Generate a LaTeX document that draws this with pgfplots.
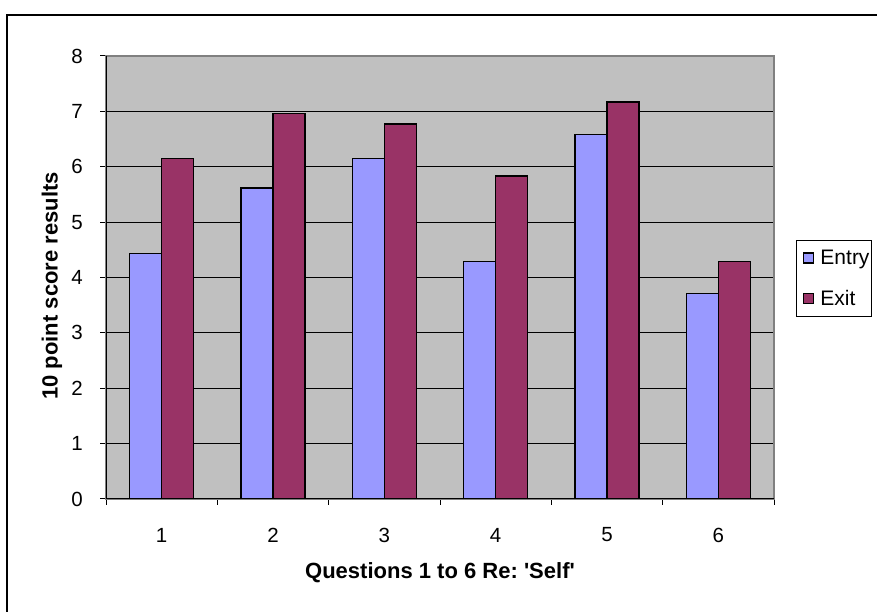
\documentclass[border=0pt]{standalone}
\usepackage{pgfplots}
\pgfplotsset{compat=1.18}
\usepackage{fontspec}
\setmainfont{Liberation Sans}
\definecolor{entryc}{HTML}{9999FF}
\definecolor{exitc}{HTML}{993366}
\definecolor{plotbg}{HTML}{C0C0C0}
\definecolor{frameg}{HTML}{808080}
\begin{document}
\begin{tikzpicture}
\path[use as bounding box] (0pt,0pt) rectangle (877pt,612pt);
% chart area frame (runs off the right and bottom edges)
\draw[line width=2pt] (7pt,-20pt) -- (7pt,597pt) -- (900pt,597pt);
\begin{axis}[
    at={(106pt,113pt)}, anchor=south west,
    scale only axis, width=668pt, height=443pt,
    xmin=-0.5, xmax=5.5, ymin=0, ymax=8,
    xtick={0,...,5}, xticklabels={1,2,3,4,5,6},
    minor xtick={-0.5,0.5,...,5.5},
    major x tick style={draw=none},
    minor x tick style={black, line width=1pt},
    xtick align=outside, ytick align=outside,
    xtick pos=bottom, ytick pos=left,
    minor tick length=6pt, major tick length=6pt,
    ytick={0,...,8},
    y tick style={black, line width=1pt},
    ymajorgrids, grid style={black, line width=1pt},
    axis background/.style={fill=plotbg},
    axis line style={draw=frameg, line width=1.5pt},
    /pgf/number format/assume math mode=true,
    tick label style={font=\fontsize{20.5}{24}\selectfont},
    xticklabel style={anchor=center, yshift=-30pt},
    yticklabel style={anchor=east, inner sep=0pt, xshift=-17pt},
    xlabel={\textbf{Questions 1 to 6 Re:\ \textquotesingle Self\textquotesingle}},
    ylabel={\textbf{10 point score results}},
    label style={font=\fontsize{22}{26}\selectfont},
    xlabel style={at={(axis description cs:0.5,-0.167)}, anchor=center},
    ylabel style={at={(axis description cs:-0.081,0.481)}, anchor=center},
    legend style={at={(axis description cs:1.0329,0.5847)}, anchor=north west,
        draw=black, line width=1pt, fill=white,
        font=\fontsize{21}{25}\selectfont,
        inner xsep=0pt, inner ysep=7.5pt, row sep=20pt},
    legend cell align=left,
    ybar, bar width=0.2874,
]
\addplot[fill=entryc, draw=black, line width=1.5pt, bar shift=-0.1437,
    legend image code/.code={\path[draw=none,fill=none] (0pt,0pt) -- (22pt,0pt);
      \draw[fill=entryc,draw=black,line width=1.5pt] (7pt,-5pt) rectangle (17pt,5pt);}]
    coordinates {(0,4.43) (1,5.62) (2,6.15) (3,4.29) (4,6.58) (5,3.71)};
\addplot[fill=exitc, draw=black, line width=1.5pt, bar shift=0.1437,
    legend image code/.code={\path[draw=none,fill=none] (0pt,0pt) -- (22pt,0pt);
      \draw[fill=exitc,draw=black,line width=1.5pt] (7pt,-5pt) rectangle (17pt,5pt);}]
    coordinates {(0,6.15) (1,6.96) (2,6.77) (3,5.83) (4,7.17) (5,4.29)};
\legend{Entry,Exit}
\draw[black, line width=1.5pt] (rel axis cs:0,1) -- (rel axis cs:0,0) -- (rel axis cs:1,0);
\end{axis}
\end{tikzpicture}
\end{document}
